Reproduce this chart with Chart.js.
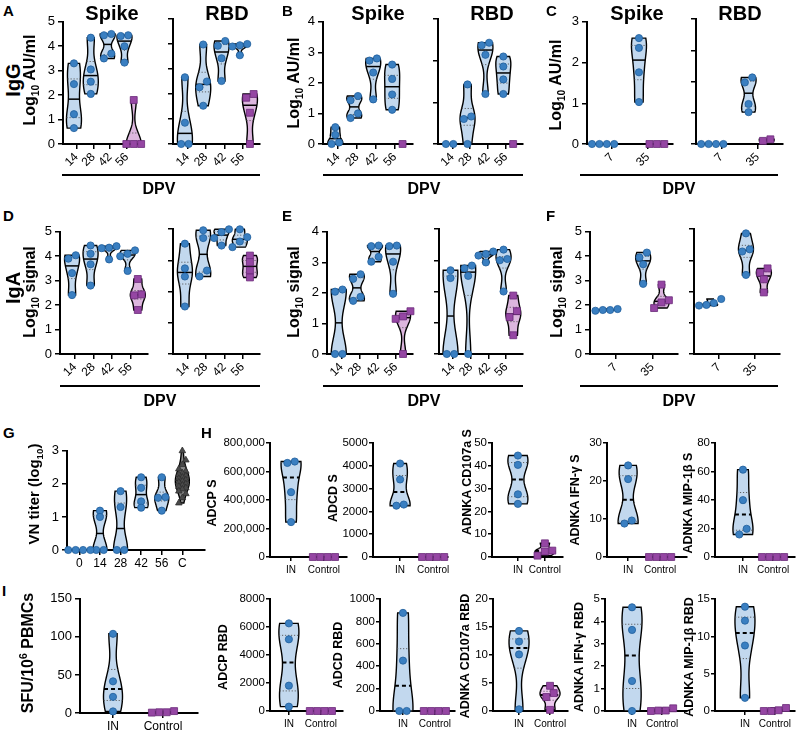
<!DOCTYPE html>
<html lang="en">
<head>
<meta charset="UTF-8">
<title>Antibody and cellular responses</title>
<script src="https://cdn.jsdelivr.net/npm/chart.js"></script>
<style>
  body { margin: 0; background: #fff; font-family: 'Liberation Sans', Arial, sans-serif; }
  #fig { position: relative; width: 800px; height: 735px; overflow: hidden; }
  #fig canvas { position: absolute; }
  .t { position: absolute; font-weight: bold; color: #000; white-space: nowrap; line-height: 1; z-index: 5; }
  .rot { transform: translate(-50%, -50%) rotate(-90deg); }
  .ctr { transform: translateX(-50%); }
  .uline { position: absolute; height: 0; border-top: 2.5px solid #000; z-index: 5; }
  sub, sup { font-size: 65%; line-height: 0; }
</style>
</head>
<body>
<div id="fig">
  <!-- panel letters -->
  <div class="t" style="left:3px;top:3px;font-size:15px">A</div>
  <div class="t" style="left:282px;top:3px;font-size:15px">B</div>
  <div class="t" style="left:546px;top:3px;font-size:15px">C</div>
  <div class="t" style="left:3px;top:208px;font-size:15px">D</div>
  <div class="t" style="left:282px;top:208px;font-size:15px">E</div>
  <div class="t" style="left:546px;top:208px;font-size:15px">F</div>
  <div class="t" style="left:3px;top:425px;font-size:15px">G</div>
  <div class="t" style="left:201px;top:425px;font-size:15px">H</div>
  <div class="t" style="left:2px;top:583px;font-size:15px">I</div>

  <!-- column titles -->
  <div class="t ctr" style="left:112px;top:3px;font-size:20px">Spike</div>
  <div class="t ctr" style="left:227px;top:3px;font-size:20px">RBD</div>
  <div class="t ctr" style="left:378px;top:3px;font-size:20px">Spike</div>
  <div class="t ctr" style="left:492px;top:3px;font-size:20px">RBD</div>
  <div class="t ctr" style="left:637px;top:3px;font-size:20px">Spike</div>
  <div class="t ctr" style="left:740px;top:3px;font-size:20px">RBD</div>

  <!-- y titles -->
  <div class="t rot" style="left:13px;top:80px;font-size:20px">IgG</div>
  <div class="t rot" style="left:30px;top:80px;font-size:16px">Log<sub>10</sub> AU/ml</div>
  <div class="t rot" style="left:294px;top:83px;font-size:16px">Log<sub>10</sub> AU/ml</div>
  <div class="t rot" style="left:556px;top:85px;font-size:16px">Log<sub>10</sub> AU/ml</div>
  <div class="t rot" style="left:13px;top:288px;font-size:20px">IgA</div>
  <div class="t rot" style="left:30px;top:292px;font-size:16px">Log<sub>10</sub> signal</div>
  <div class="t rot" style="left:294px;top:292px;font-size:16px">Log<sub>10</sub> signal</div>
  <div class="t rot" style="left:557px;top:292px;font-size:16px">Log<sub>10</sub> signal</div>
  <div class="t rot" style="left:33px;top:494px;font-size:15px">VN titer (log<sub>10</sub>)</div>
  <div class="t rot" style="left:28px;top:653px;font-size:16px">SFU/10<sup>6</sup> PBMCs</div>

  <div class="t rot" style="left:212px;top:503px;font-size:12.5px">ADCP S</div>
  <div class="t rot" style="left:333px;top:498px;font-size:12.5px">ADCD S</div>
  <div class="t rot" style="left:467px;top:482px;font-size:12.5px">ADNKA CD107a S</div>
  <div class="t rot" style="left:575px;top:500px;font-size:12.5px">ADNKA IFN-&gamma; S</div>
  <div class="t rot" style="left:688px;top:503px;font-size:12.5px">ADNKA MIP-1&beta; S</div>
  <div class="t rot" style="left:223px;top:657px;font-size:12.5px">ADCP RBD</div>
  <div class="t rot" style="left:338px;top:655px;font-size:12.5px">ADCD RBD</div>
  <div class="t rot" style="left:465px;top:656px;font-size:12.5px">ADNKA CD107a RBD</div>
  <div class="t rot" style="left:579px;top:657px;font-size:12.5px">ADNKA IFN-&gamma; RBD</div>
  <div class="t rot" style="left:689px;top:657px;font-size:12.5px">ADNKA MIP-1&beta; RBD</div>

  <!-- DPV brackets -->
  <div class="uline" style="left:62px;top:174px;width:198px"></div>
  <div class="uline" style="left:323px;top:174px;width:200px"></div>
  <div class="uline" style="left:580px;top:174px;width:198px"></div>
  <div class="uline" style="left:60px;top:385px;width:200px"></div>
  <div class="uline" style="left:323px;top:385px;width:200px"></div>
  <div class="uline" style="left:580px;top:385px;width:198px"></div>
  <div class="t ctr" style="left:159px;top:181px;font-size:16px">DPV</div>
  <div class="t ctr" style="left:424px;top:181px;font-size:16px">DPV</div>
  <div class="t ctr" style="left:679px;top:181px;font-size:16px">DPV</div>
  <div class="t ctr" style="left:160px;top:393px;font-size:16px">DPV</div>
  <div class="t ctr" style="left:424px;top:393px;font-size:16px">DPV</div>
  <div class="t ctr" style="left:679px;top:393px;font-size:16px">DPV</div>
</div>

<script>
// ---------- data ----------
const dayLabels = ['14', '28', '42', '56'];
const earlyLabels = ['7', '35'];
const vnLabels = ['0', '14', '28', '42', '56', 'C'];
const groupLabels = ['IN', 'Control'];

// IgG
const aSpikeIN = [[3.3, 2.45, 1.22, 0.65], [4.35, 3.05, 2.55, 2.05], [4.5, 4.45, 3.7, 3.5], [4.45, 4.42, 4.0, 3.33]];
const aSpikeCtrl = [1.8, 0, 0, 0];
const aRbdIN = [[2.67, 0.85, 0, 0], [3.98, 2.5, 2.27, 1.53], [4.12, 3.93, 3.43, 2.52], [4.0, 3.95, 3.9, 3.55]];
const aRbdCtrl = [2.0, 1.85, 1.25, 0];
const bSpikeIN = [[0.55, 0.3, 0.05, 0], [1.57, 1.43, 1.0, 0.85], [2.8, 2.73, 2.34, 1.46], [2.6, 2.13, 1.62, 1.12]];
const bSpikeCtrl = [0];
const bRbdIN = [[0, 0], [1.43, 0.66, 0.6, 0], [2.43, 2.37, 2.14, 1.2], [2.1, 1.86, 1.55, 1.2]];
const bRbdCtrl = [0];
const cSpikeIN = [[0, 0, 0, 0], [2.6, 2.36, 1.76, 1.03]];
const cSpikeCtrl = [0, 0, 0];
const cRbdIN = [[0, 0, 0, 0], [2.13, 1.97, 1.28, 1.02]];
const cRbdCtrl = [0.15, 0.1];

// IgA
const dSpikeIN = [[4.04, 3.9, 3.31, 2.41], [4.44, 4.1, 3.67, 2.8], [4.41, 4.35, 4.33, 3.87], [4.24, 4.1, 4.0, 3.4]];
const dSpikeCtrl = [3.07, 2.44, 2.4, 1.8];
const dRbdIN = [[3.53, 2.74, 2.48, 1.52], [3.96, 3.71, 2.67, 2.48], [3.99, 3.9, 3.71, 3.47], [3.99, 3.74, 3.6, 3.42]];
const dRbdCtrl = [3.15, 2.94, 2.67, 2.45];
const eSpikeIN = [[2.11, 2.04, 0, 0], [2.61, 2.46, 1.87, 1.74], [3.55, 3.53, 3.18, 3.02], [3.55, 3.53, 3.02, 1.97]];
const eSpikeCtrl = [1.4, 1.23, 1.15, 0];
const eRbdIN = [[2.68, 2.43, 0, 0], [2.83, 2.74, 2.5, 0], [3.28, 3.2, 3.15, 2.93], [3.34, 3.04, 3.0, 2.0]];
const eRbdCtrl = [1.87, 1.37, 1.18, 0.6];
const fSpikeIN = [[1.84, 1.8, 1.8, 1.77], [4.15, 3.95, 3.67, 2.87]];
const fSpikeCtrl = [2.84, 2.2, 2.11, 1.88];
const fRbdIN = [[1.76, 1.63, 1.57, 1.55], [3.86, 3.35, 3.28, 2.53]];
const fRbdCtrl = [2.74, 2.6, 2.39, 1.97];

// virus neutralisation
const vnDays = [[0, 0, 0, 0], [1.19, 1.0, 0, 0], [1.78, 1.3, 0, 0], [2.2, 1.88, 1.47, 1.28], [2.2, 1.6, 1.58, 1.19]];
const vnConv = [3.0, 2.72, 2.58, 2.45, 2.38, 2.33, 2.28, 2.24, 2.2, 2.16, 2.12, 2.08, 2.05, 2.0, 1.96, 1.92, 1.88, 1.84, 1.78, 1.7, 1.58, 1.42];

// functional assays (IN vs control)
const adcpS = [670000, 660000, 455000, 245000], adcpSCtrl = [0, 0, 0, 0];
const adcdS = [4100, 3400, 2300, 2250], adcdSCtrl = [0, 0, 0, 0];
const cd107aS = [44.5, 40.4, 27.5, 23.3], cd107aSCtrl = [6.0, 2.8, 2.4, 0.6];
const ifngS = [24.1, 20.5, 9.6, 8.8], ifngSCtrl = [0, 0, 0, 0];
const mipS = [61.3, 39.9, 19.8, 15.8], mipSCtrl = [0, 0, 0, 0];
const adcpR = [6260, 5120, 1810, 310], adcpRCtrl = [0, 0, 0, 0];
const adcdR = [876, 450, 0, 0], adcdRCtrl = [0, 0, 0, 0];
const cd107aR = [14.3, 12.4, 10.1, 0.3], cd107aRCtrl = [4.5, 3.2, 2.5, 0.2];
const ifngR = [4.63, 3.62, 1.34, 0], ifngRCtrl = [0.12, 0.02, 0.02, 0];
const mipR = [13.97, 12.1, 8.77, 1.76], mipRCtrl = [0.4, 0.1, 0, 0];
const sfu = [104, 41.6, 21.2, 2.1], sfuCtrl = [1.0, 2.5, 0.5, 1.0];

// ---------- drawing ----------
const FONT = "'Liberation Sans', Arial, sans-serif";
const BLUE = { fill: '#c2d8ee', pt: '#3a7fc1', edge: '#1f5e9c', style: 'circle', r: 3.6 };
const PURPLE = { fill: '#dcb6de', pt: '#9546a3', edge: '#6a2a78', style: 'rect', r: 4.9 };
const PINK = { fill: '#ecc9ee', pt: '#9546a3', edge: '#6a2a78', style: 'rect', r: 4.9 };
const GREY = { fill: '#8a8a8a', pt: '#4a4a4a', edge: '#2e2e2e', style: 'triangle', r: 3.8 };
const PT = 8, PR = 8;
const fig = document.getElementById('fig');

function quant(s, p) {
  const pos = (s.length - 1) * p, i = Math.floor(pos), f = pos - i;
  return s[i] + (s[Math.min(i + 1, s.length - 1)] - s[i]) * f;
}

// spread overlapping points sideways, like a small beeswarm
function swarm(vals, pxY, pxX) {
  const idx = vals.map((v, i) => i).sort((a, b) => vals[a] - vals[b]);
  const off = vals.map(() => 0);
  let start = 0;
  for (let k = 1; k <= idx.length; k++) {
    if (k === idx.length || (vals[idx[k]] - vals[idx[k - 1]]) * pxY > 6) {
      const n = k - start;
      for (let j = start; j < k; j++) {
        off[idx[j]] = n > 5 ? (((j - start) % 3) - 1) * 3.5 / pxX
                            : (j - start - (n - 1) / 2) * 7.4 / pxX;
      }
      start = k;
    }
  }
  return off;
}

function drawViolin(ctx, xs, ys, g, halfW, dashed) {
  const v = g.vals.slice().sort((a, b) => a - b);
  const lo = v[0], hi = v[v.length - 1];
  const cx = xs.getPixelForValue(g.x);
  ctx.save();
  ctx.strokeStyle = '#000';
  ctx.lineWidth = 1.4;
  ctx.fillStyle = g.look.fill;
  if (v.length < 2 || hi - lo < 1e-9) {
    const y = ys.getPixelForValue(lo);
    ctx.beginPath(); ctx.moveTo(cx - halfW * 0.8, y); ctx.lineTo(cx + halfW * 0.8, y); ctx.stroke();
    ctx.restore();
    return;
  }
  const mean = v.reduce((a, b) => a + b, 0) / v.length;
  const sd = Math.sqrt(v.reduce((s, a) => s + (a - mean) ** 2, 0) / (v.length - 1));
  const h = Math.max(sd * 0.5, (hi - lo) * 0.08);
  const dens = y => v.reduce((s, a) => s + Math.exp(-0.5 * ((y - a) / h) ** 2), 0);
  const N = 60, prof = [];
  let mx = 0;
  for (let k = 0; k <= N; k++) {
    const y = lo + (hi - lo) * k / N, d = dens(y);
    prof.push([y, d]); mx = Math.max(mx, d);
  }
  const wOf = y => Math.max(0.4, halfW * dens(y) / mx);
  ctx.beginPath();
  prof.forEach(([y], k) => {
    const px = cx - wOf(y), py = ys.getPixelForValue(y);
    k ? ctx.lineTo(px, py) : ctx.moveTo(px, py);
  });
  for (let k = N; k >= 0; k--) ctx.lineTo(cx + wOf(prof[k][0]), ys.getPixelForValue(prof[k][0]));
  ctx.closePath();
  ctx.fill();
  ctx.stroke();
  // quartiles (dotted) and median
  ctx.lineWidth = 0.9;
  ctx.strokeStyle = '#555';
  ctx.setLineDash([1.2, 1.8]);
  [quant(v, 0.25), quant(v, 0.75)].forEach(q => {
    const py = ys.getPixelForValue(q), w = wOf(q);
    ctx.beginPath(); ctx.moveTo(cx - w, py); ctx.lineTo(cx + w, py); ctx.stroke();
  });
  const med = quant(v, 0.5), py = ys.getPixelForValue(med), w = wOf(med);
  ctx.strokeStyle = '#000';
  ctx.lineWidth = dashed ? 2 : 1.5;
  ctx.setLineDash(dashed ? [4, 3] : []);
  ctx.beginPath(); ctx.moveTo(cx - w, py); ctx.lineTo(cx + w, py); ctx.stroke();
  ctx.restore();
}

function violinPlugin(groups, halfW, dashed) {
  return {
    id: 'violin',
    beforeDatasetsDraw(chart) {
      const { ctx, scales } = chart;
      groups.forEach(g => drawViolin(ctx, scales.x, scales.y, g, halfW, dashed));
    }
  };
}

function panel(p) {
  const xH = p.xH, yW = p.yW;
  const pxX = (p.R - p.L) / (p.xMax - p.xMin), pxY = (p.B - p.T) / p.yMax;
  const cv = document.createElement('canvas');
  cv.width = p.R - p.L + yW + PR;
  cv.height = p.B - p.T + PT + xH;
  cv.style.left = (p.L - yW) + 'px';
  cv.style.top = (p.T - PT) + 'px';
  fig.appendChild(cv);

  const datasets = p.groups.map(g => {
    const off = swarm(g.vals, pxY, pxX);
    return {
      data: g.vals.map((v, i) => ({ x: g.x + off[i], y: v })),
      pointStyle: g.look.style, pointRadius: g.look.r,
      backgroundColor: g.look.pt, borderColor: g.look.edge, borderWidth: 0.8,
      clip: false
    };
  });

  const axisGrid = { drawOnChartArea: false, drawTicks: true, tickLength: p.tickLen || 5, color: '#000', lineWidth: 1.5 };
  const axisBorder = { color: '#000', width: 2 };

  new Chart(cv, {
    type: 'scatter',
    data: { datasets: datasets },
    plugins: [violinPlugin(p.groups, p.halfW, p.dashed)],
    options: {
      responsive: false,
      animation: false,
      devicePixelRatio: 1,
      events: [],
      layout: { padding: { top: PT, right: PR, left: 0, bottom: 0 } },
      plugins: { legend: { display: false }, tooltip: { enabled: false } },
      scales: {
        x: {
          type: 'linear', min: p.xMin, max: p.xMax,
          afterBuildTicks: s => { s.ticks = p.xTicks.map(v => ({ value: v })); },
          afterFit: s => { s.height = xH; },
          ticks: {
            autoSkip: false, minRotation: p.rot, maxRotation: p.rot, padding: p.xPad || 1,
            color: '#000', font: { family: FONT, size: p.xFont },
            callback: (v, i) => p.xLabels[i]
          },
          grid: axisGrid, border: axisBorder
        },
        y: {
          type: 'linear', min: 0, max: p.yMax,
          afterFit: s => { s.width = yW; },
          ticks: {
            stepSize: p.yStep, display: p.show, padding: p.yPad || 3,
            color: '#000', font: { family: FONT, size: p.yFont },
            callback: v => p.comma ? v.toLocaleString('en-US') : String(v)
          },
          grid: axisGrid, border: axisBorder
        }
      }
    }
  });
}

function dpvGroups(inVals, ctrlVals) {
  const gs = inVals.map((v, i) => ({ x: i + 1, vals: v, look: BLUE }));
  gs.push({ x: 4.55, vals: ctrlVals, look: PURPLE });
  return gs;
}
function earlyGroups(inVals, ctrlVals) {
  const gs = inVals.map((v, i) => ({ x: i + 1, vals: v, look: BLUE }));
  gs.push({ x: 2.5, vals: ctrlVals, look: PURPLE });
  return gs;
}

// A-F
const dpvAxis = { xMin: 0.35, xMax: 5.1, xTicks: [1.15, 2.15, 3.15, 4.15], xLabels: dayLabels };
const earlyAxis = { xMin: 0.55, xMax: 2.95, xTicks: [1.25, 2.25], xLabels: earlyLabels };
const igPanels = [
  { L: 63, R: 143, T: 19, B: 144, yMax: 5, show: true, groups: dpvGroups(aSpikeIN, aSpikeCtrl), ax: dpvAxis },
  { L: 173, R: 260, T: 19, B: 144, yMax: 5, show: false, groups: dpvGroups(aRbdIN, aRbdCtrl), ax: dpvAxis },
  { L: 323, R: 413, T: 19, B: 144, yMax: 4, show: true, groups: dpvGroups(bSpikeIN, bSpikeCtrl), ax: dpvAxis },
  { L: 438, R: 523, T: 19, B: 144, yMax: 3, show: false, groups: dpvGroups(bRbdIN, bRbdCtrl), ax: dpvAxis },
  { L: 587, R: 673, T: 19, B: 144, yMax: 3, show: true, groups: earlyGroups(cSpikeIN, cSpikeCtrl), ax: earlyAxis },
  { L: 696, R: 783, T: 19, B: 144, yMax: 4, show: false, groups: earlyGroups(cRbdIN, cRbdCtrl), ax: earlyAxis },
  { L: 60, R: 148, T: 229, B: 354, yMax: 5, show: true, groups: dpvGroups(dSpikeIN, dSpikeCtrl), ax: dpvAxis },
  { L: 173, R: 260, T: 229, B: 354, yMax: 4, show: false, groups: dpvGroups(dRbdIN, dRbdCtrl), ax: dpvAxis },
  { L: 327, R: 413, T: 229, B: 354, yMax: 4, show: true, groups: dpvGroups(eSpikeIN, eSpikeCtrl), ax: dpvAxis },
  { L: 439, R: 523, T: 229, B: 354, yMax: 4, show: false, groups: dpvGroups(eRbdIN, eRbdCtrl), ax: dpvAxis },
  { L: 590, R: 678, T: 229, B: 354, yMax: 5, show: true, groups: earlyGroups(fSpikeIN, fSpikeCtrl), ax: earlyAxis },
  { L: 694, R: 780, T: 229, B: 354, yMax: 4, show: false, groups: earlyGroups(fRbdIN, fRbdCtrl), ax: earlyAxis }
];
igPanels.forEach(p => panel(Object.assign({}, p, p.ax, {
  yStep: 1, yW: 30, xH: 30, rot: 45, xFont: 12, yFont: 13, halfW: 7.5, dashed: false
})));

// G
const vnGroups = vnDays.map((v, i) => ({ x: i, vals: v, look: BLUE }));
vnGroups.push({ x: 5, vals: vnConv, look: GREY });
panel({
  L: 67, R: 205, T: 448, B: 550, yMax: 3, yStep: 1, show: true, yW: 30, xH: 22,
  xMin: -0.6, xMax: 6.1, xTicks: [0, 1, 2, 3, 4, 5], xLabels: vnLabels, rot: 0,
  xFont: 12, yFont: 13, groups: vnGroups, halfW: 7, dashed: false
});

// H and I
function inCtrl(inVals, ctrlVals, ctrlLook) {
  return [{ x: 1, vals: inVals, look: BLUE }, { x: 2, vals: ctrlVals, look: ctrlLook || PURPLE }];
}
const fnPanels = [
  { L: 270, R: 347, T: 443, B: 557, xMin: 0.36, xMax: 2.70, yMax: 800000, yStep: 200000, comma: true, groups: inCtrl(adcpS, adcpSCtrl) },
  { L: 373, R: 448, T: 443, B: 557, xMin: 0.18, xMax: 2.45, yMax: 5000, yStep: 1000, groups: inCtrl(adcdS, adcdSCtrl) },
  { L: 492, R: 563, T: 443, B: 557, xMin: 0.04, xMax: 2.67, yMax: 50, yStep: 10, groups: inCtrl(cd107aS, cd107aSCtrl, PINK) },
  { L: 607, R: 687, T: 443, B: 557, xMin: 0.34, xMax: 2.84, yMax: 30, yStep: 10, groups: inCtrl(ifngS, ifngSCtrl) },
  { L: 715, R: 795, T: 443, B: 557, xMin: 0.07, xMax: 2.73, yMax: 80, yStep: 20, groups: inCtrl(mipS, mipSCtrl) },
  { L: 270, R: 343, T: 599, B: 711, xMin: 0.41, xMax: 2.69, yMax: 8000, yStep: 2000, groups: inCtrl(adcpR, adcpRCtrl) },
  { L: 380, R: 455, T: 599, B: 711, xMin: 0.28, xMax: 2.63, yMax: 1000, yStep: 200, groups: inCtrl(adcdR, adcdRCtrl) },
  { L: 493, R: 568, T: 599, B: 711, xMin: 0.16, xMax: 2.58, yMax: 20, yStep: 5, groups: inCtrl(cd107aR, cd107aRCtrl, PINK) },
  { L: 605, R: 687, T: 599, B: 711, xMin: 0.10, xMax: 2.83, yMax: 5, yStep: 1, groups: inCtrl(ifngR, ifngRCtrl) },
  { L: 715, R: 795, T: 599, B: 711, xMin: 0.0, xMax: 2.67, yMax: 15, yStep: 5, groups: inCtrl(mipR, mipRCtrl) }
];
fnPanels.forEach(p => panel(Object.assign({
  show: true, yW: 60, xH: 22, xTicks: [1, 2], xLabels: groupLabels, rot: 0,
  xFont: 10, yFont: 11.5, halfW: 10, dashed: true, tickLen: 4, yPad: 1, xPad: 3
}, p)));

panel({
  L: 80, R: 198, T: 596, B: 713, xMin: 0.34, xMax: 2.7, yMax: 150, yStep: 50, show: true,
  yW: 45, xH: 20, xTicks: [1, 2], xLabels: groupLabels, rot: 0, xFont: 12, yFont: 13,
  groups: inCtrl(sfu, sfuCtrl), halfW: 9.5, dashed: true
});
</script>
</body>
</html>
